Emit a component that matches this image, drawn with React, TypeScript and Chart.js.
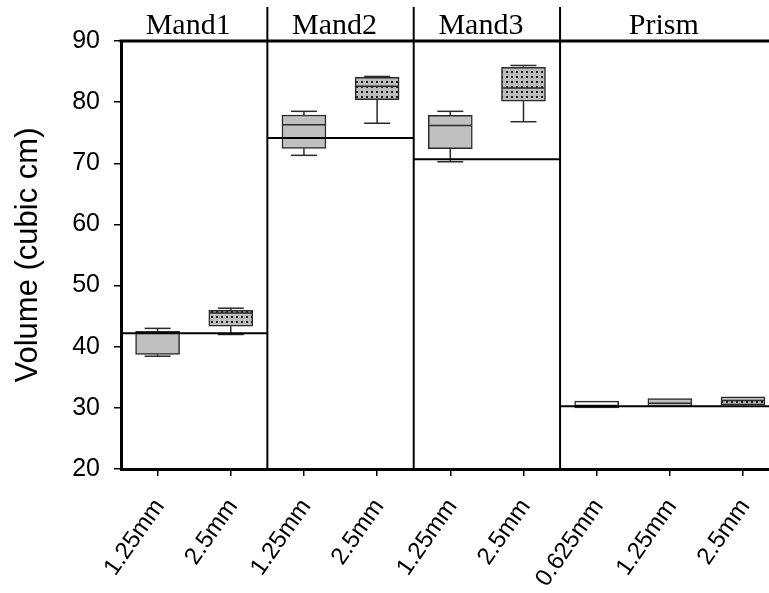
import React, { useEffect, useRef } from 'react';
import { Chart, registerables } from 'chart.js';

Chart.register(...registerables);

// ---- data ----
const categories = ['1.25mm', '2.5mm', '1.25mm', '2.5mm', '1.25mm', '2.5mm', '0.625mm', '1.25mm', '2.5mm'];
const groupNames = ['Mand1', 'Mand2', 'Mand3', 'Prism'];
const groupFirst = [1, 3, 5, 7];
const groupLast = [2, 4, 6, 9];
const groupMeans = [42.2, 74.15, 70.65, 30.25];
const whiskerLow = [38.45, 42.0, 71.3, 76.55, 70.25, 76.8, 30.0, 30.2, 30.5];
const quartile1 = [38.75, 43.35, 72.45, 80.4, 72.4, 80.15, 30.0, 30.2, 30.5];
const medians = [42.3, 45.5, 76.3, 82.6, 76.2, 82.3, 30.4, 30.75, 31.2];
const quartile3 = [42.5, 45.95, 77.9, 84.05, 77.85, 85.7, 31.1, 31.5, 31.8];
const whiskerHigh = [43.0, 46.3, 78.5, 84.2, 78.5, 86.0, 31.1, 31.5, 31.8];
const fillKinds = ['gray', 'dots', 'gray', 'dots', 'gray', 'dots', 'white', 'gray', 'dots'];
const yTickValues = [20, 30, 40, 50, 60, 70, 80, 90];
const yTitle = 'Volume (cubic cm)';

const SANS = '"Liberation Sans", Arial, sans-serif';
const SERIF = '"Liberation Serif", "Times New Roman", serif';

function makeDots(): CanvasPattern | string {
  const c = document.createElement('canvas');
  c.width = 5;
  c.height = 5;
  const g = c.getContext('2d');
  if (!g) return '#c0c0c0';
  g.fillStyle = '#bdbdbd';
  g.fillRect(0, 0, 5, 5);
  g.fillStyle = '#1a1a1a';
  g.fillRect(1, 1, 2, 2);
  const p = g.createPattern(c, 'repeat');
  return p || '#c0c0c0';
}

const extrasPlugin = {
  id: 'boxExtras',
  afterDatasetsDraw(chart: any) {
    const { ctx, chartArea } = chart;
    const xs = chart.scales.x;
    const ys = chart.scales.y;
    ctx.save();
    // whiskers, caps and medians
    ctx.strokeStyle = '#2a2a2a';
    ctx.lineWidth = 1.5;
    const line = (x0: number, y0: number, x1: number, y1: number) => {
      ctx.beginPath();
      ctx.moveTo(x0, y0);
      ctx.lineTo(x1, y1);
      ctx.stroke();
    };
    categories.forEach((_, i) => {
      const cx = xs.getPixelForValue(i + 1);
      const cap = 13;
      const half = 21;
      if (whiskerHigh[i] > quartile3[i]) {
        const yh = ys.getPixelForValue(whiskerHigh[i]);
        line(cx, ys.getPixelForValue(quartile3[i]), cx, yh);
        line(cx - cap, yh, cx + cap, yh);
      }
      if (whiskerLow[i] < quartile1[i]) {
        const yl = ys.getPixelForValue(whiskerLow[i]);
        line(cx, ys.getPixelForValue(quartile1[i]), cx, yl);
        line(cx - cap, yl, cx + cap, yl);
      }
      const ym = ys.getPixelForValue(medians[i]);
      line(cx - half, ym, cx + half, ym);
    });
    // group mean lines
    ctx.strokeStyle = '#000';
    ctx.lineWidth = 2;
    groupMeans.forEach((m, g) => {
      const x0 = xs.getPixelForValue(groupFirst[g] - 0.5);
      const x1 = g === groupMeans.length - 1 ? chartArea.right : xs.getPixelForValue(groupLast[g] + 0.5);
      const ym = ys.getPixelForValue(m);
      line(x0, ym, x1, ym);
    });
    // top frame line
    ctx.lineWidth = 3;
    line(chartArea.left - 1.5, chartArea.top, chartArea.right, chartArea.top);
    // separators
    ctx.lineWidth = 2;
    for (let g = 1; g < groupNames.length; g++) {
      const sx = xs.getPixelForValue(groupFirst[g] - 0.5);
      line(sx, 7, sx, chartArea.bottom);
    }
    // group labels
    ctx.fillStyle = '#000';
    ctx.font = '30px ' + SERIF;
    ctx.textAlign = 'center';
    ctx.textBaseline = 'alphabetic';
    groupNames.forEach((name, g) => {
      const c = xs.getPixelForValue((groupFirst[g] + groupLast[g]) / 2) - 6;
      ctx.fillText(name, c, 34);
    });
    // rotated category labels
    ctx.font = '24px ' + SANS;
    ctx.textAlign = 'right';
    ctx.textBaseline = 'middle';
    categories.forEach((lab, i) => {
      const px = xs.getPixelForValue(i + 1) + 2;
      const py = chartArea.bottom + 33;
      ctx.save();
      ctx.translate(px, py);
      ctx.rotate((-55 * Math.PI) / 180);
      ctx.fillText(lab, 0, 0);
      ctx.restore();
    });
    ctx.restore();
  },
};

export default function App() {
  const ref = useRef<HTMLCanvasElement | null>(null);
  useEffect(() => {
    document.body.style.margin = '0';
    const canvas = ref.current;
    if (!canvas) return;
    const dots = makeDots();
    const fills = fillKinds.map((k) => (k === 'dots' ? dots : k === 'white' ? '#ffffff' : '#c0c0c0'));
    const chart = new Chart(canvas, {
      type: 'bar',
      data: {
        datasets: [
          {
            data: categories.map((_, i) => ({ x: i + 1, y: [quartile1[i], quartile3[i]] })) as any,
            backgroundColor: fills as any,
            borderColor: '#2a2a2a',
            borderWidth: 1.5,
            borderSkipped: false,
            barThickness: 44,
          },
        ],
      },
      options: {
        responsive: false,
        animation: false,
        layout: { padding: { top: 41, right: 0, left: 0, bottom: 0 } },
        plugins: { legend: { display: false }, tooltip: { enabled: false } },
        scales: {
          x: {
            type: 'linear',
            min: 0.5,
            max: 9.355,
            offset: false,
            afterBuildTicks: (s: any) => {
              s.ticks = categories.map((_, i) => ({ value: i + 1 }));
            },
            afterFit: (s: any) => {
              s.height = 124;
              s.paddingLeft = 0;
              s.paddingRight = 0;
            },
            ticks: { display: false },
            grid: {
              offset: false,
              drawOnChartArea: false,
              drawTicks: true,
              tickLength: 7,
              color: '#000',
              lineWidth: 1.5,
            },
            border: { display: true, color: '#000', width: 3 },
          },
          y: {
            min: 20,
            max: 90,
            afterBuildTicks: (s: any) => {
              s.ticks = yTickValues.map((v) => ({ value: v }));
            },
            afterFit: (s: any) => {
              s.width = 121;
            },
            ticks: {
              padding: 14,
              color: '#000',
              font: { size: 25, family: SANS },
            },
            grid: {
              drawOnChartArea: false,
              drawTicks: true,
              tickLength: 7,
              color: '#000',
              lineWidth: 1.5,
            },
            border: { display: true, color: '#000', width: 3 },
            title: {
              display: true,
              text: yTitle,
              color: '#000',
              font: { size: 31, family: SANS, lineHeight: 1.2 },
              padding: { top: 10, bottom: 0 },
            },
          },
        },
      },
      plugins: [extrasPlugin],
    } as any);
    return () => chart.destroy();
  }, []);
  return (
    <div style={{ width: 769, height: 593 }}>
      <canvas ref={ref} width={769} height={593} style={{ display: 'block' }} />
    </div>
  );
}
